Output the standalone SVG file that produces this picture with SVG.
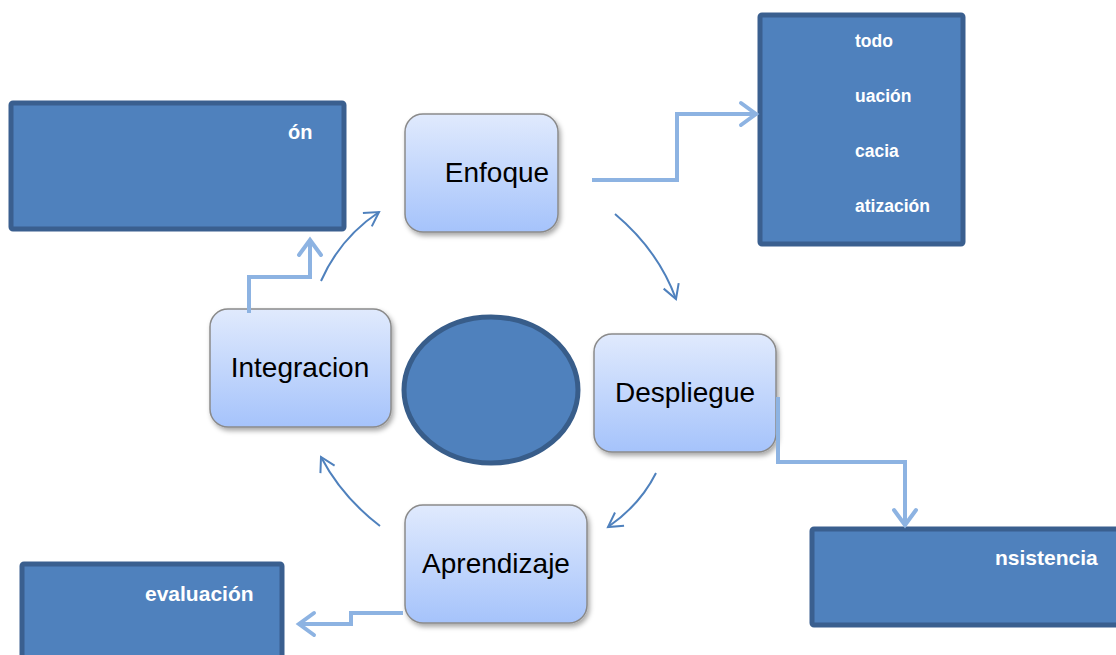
<svg xmlns="http://www.w3.org/2000/svg" width="1116" height="655" viewBox="0 0 1116 655">
<defs>
<linearGradient id="ng" x1="0" y1="0" x2="0" y2="1">
<stop offset="0" stop-color="#e0eafd"/>
<stop offset="1" stop-color="#a5c3fb"/>
</linearGradient>
<filter id="sh" x="-10%" y="-10%" width="130%" height="130%">
<feDropShadow dx="2" dy="3" stdDeviation="2.5" flood-color="#000" flood-opacity="0.35"/>
</filter>
<marker id="thick" markerUnits="userSpaceOnUse" markerWidth="30" markerHeight="30" refX="0" refY="0" viewBox="-20 -15 30 30" orient="auto" overflow="visible">
<path d="M-15,-11 L0,0 L-15,11" fill="none" stroke="#8db3e2" stroke-width="4" stroke-linecap="round"/>
</marker>
<marker id="thin" markerUnits="userSpaceOnUse" markerWidth="30" markerHeight="30" refX="0" refY="0" viewBox="-20 -15 30 30" orient="auto" overflow="visible">
<path d="M-14,-8 L0,0 L-14,8" fill="none" stroke="#4f81bd" stroke-width="2"/>
</marker>
</defs>
<style>
.node rect{fill:url(#ng);stroke:#8a8a8a;stroke-width:1.5;filter:url(#sh)}
.node text{font-family:"Liberation Sans",Arial,sans-serif;font-size:28px;fill:#000;text-anchor:middle}
.box rect{fill:#4f81bd;stroke:#3a5f8f;stroke-width:5}
.box text{font-family:"Liberation Sans",Arial,sans-serif;font-weight:bold;fill:#fff}
.tk{fill:none;stroke:#8db3e2;stroke-width:4;marker-end:url(#thick)}
.tn{fill:none;stroke:#4f81bd;stroke-width:2;marker-end:url(#thin)}
</style>
<rect width="1116" height="655" fill="#fff"/>

<g id="box-topleft" class="box">
<rect x="11" y="103" width="333" height="126" rx="2"/>
<text x="288" y="139" font-size="20">ón</text>
</g>
<g id="box-topright" class="box">
<rect x="760" y="15" width="203" height="229" rx="2"/>
<text x="855" y="47" font-size="17.5">todo</text>
<text x="855" y="102" font-size="17.5">uación</text>
<text x="855" y="157" font-size="17.5">cacia</text>
<text x="855" y="212" font-size="17.5">atización</text>
</g>
<g id="box-bottomright" class="box">
<rect x="812" y="529" width="310" height="96" rx="2"/>
<text x="995" y="565" font-size="21">nsistencia</text>
</g>
<g id="box-bottomleft" class="box">
<rect x="22" y="564" width="260" height="100" rx="2"/>
<text x="145" y="601" font-size="21">evaluación</text>
</g>

<g id="center-circle">
<ellipse cx="491" cy="390" rx="87" ry="73" fill="#4f81bd" stroke="#385d8a" stroke-width="5"/>
</g>

<g id="enfoque" class="node">
<rect x="405" y="114" width="153" height="118" rx="18"/>
<text x="497" y="182">Enfoque</text>
</g>
<g id="despliegue" class="node">
<rect x="594" y="334" width="182" height="118" rx="18"/>
<text x="685" y="402">Despliegue</text>
</g>
<g id="integracion" class="node">
<rect x="210" y="309" width="181" height="118" rx="18"/>
<text x="300" y="377">Integracion</text>
</g>
<g id="aprendizaje" class="node">
<rect x="405" y="505" width="182" height="118" rx="18"/>
<text x="496" y="573">Aprendizaje</text>
</g>

<g id="connectors">
<path class="tk" d="M592,180 L677,180 L677,114 L756,114"/>
<path class="tk" d="M249,313 L249,277 L310,277 L310,240"/>
<path class="tk" d="M778,397 L778,462 L905,462 L905,525"/>
<path class="tk" d="M403,613 L351,613 L351,624 L299,624"/>
<path class="tn" d="M321,281 Q340,238 379,212"/>
<path class="tn" d="M615,214 Q658,250 676,299"/>
<path class="tn" d="M656,473 Q640,505 608,527"/>
<path class="tn" d="M380,526 Q342,497 321,457"/>
</g>
</svg>
